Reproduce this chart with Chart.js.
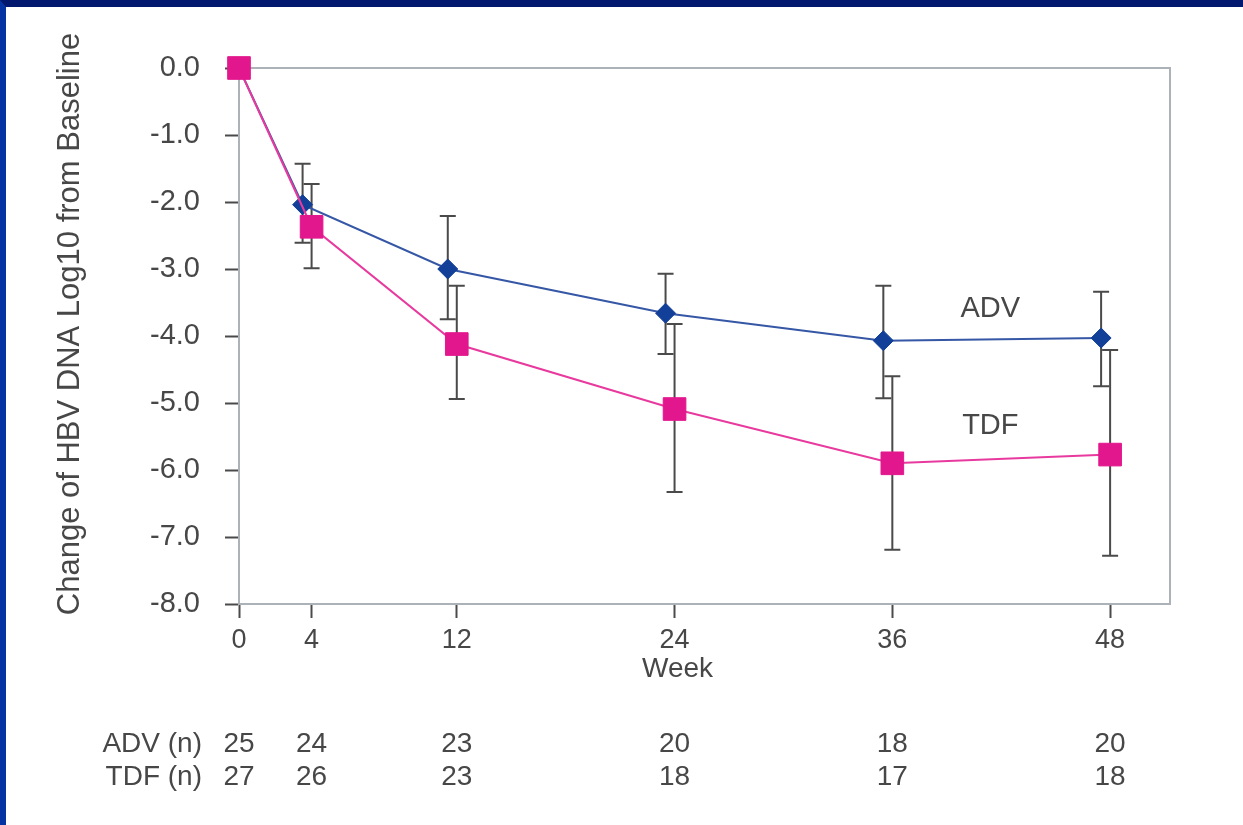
<!DOCTYPE html>
<html>
<head>
<meta charset="utf-8">
<script src="https://cdn.jsdelivr.net/npm/chart.js@4.4.1/dist/chart.umd.min.js"></script>
<style>
body { margin: 0; background: #fff; overflow: hidden; }
#frame {
    position: absolute; left: 0; top: 0;
    width: 1237px; height: 818px;
    border-left: 6px solid #0533a2;
    border-top: 7px solid #02186f;
    background: #fff;
}
</style>
</head>
<body>
<div id="frame"><canvas id="myChart"></canvas></div>
<script>
// weeks on study
var weeks = [0, 4, 12, 24, 36, 48];

// ADV: mean change and error bar ends
var advMean = [0, -2.04, -3.0, -3.66, -4.07, -4.03];
var advLow  = [null, -2.61, -3.75, -4.27, -4.93, -4.75];
var advHigh = [null, -1.43, -2.21, -3.07, -3.25, -3.34];

// TDF
var tdfMean = [0, -2.37, -4.12, -5.09, -5.90, -5.77];
var tdfLow  = [null, -2.99, -4.94, -6.33, -7.19, -7.28];
var tdfHigh = [null, -1.73, -3.25, -3.82, -4.60, -4.21];

// patients per visit
var advN = [25, 24, 23, 20, 18, 20];
var tdfN = [27, 26, 23, 18, 17, 18];

var FONT = '"Liberation Sans", Arial, sans-serif';
var TEXT = '#474747';
var ADV_SHIFT = -9; // ADV markers sit a bit left of the tick

function pts(means){
    var out = [];
    for (var i in weeks) out.push({x: weeks[i], y: means[i]});
    return out;
}

var extras = {
    id: 'extras',
    afterDatasetsUpdate: function(chart){
        var meta = chart.getDatasetMeta(0);
        for (var i = 1; i < meta.data.length; i++) {
            meta.data[i].x += ADV_SHIFT;
        }
    },
    beforeDatasetsDraw: function(chart){
        var ctx = chart.ctx, a = chart.chartArea;
        var ys = chart.scales.y;
        // top and right edges of the box
        ctx.save();
        ctx.strokeStyle = '#adb2b7';
        ctx.lineWidth = 2;
        ctx.beginPath();
        ctx.moveTo(a.left, a.top);
        ctx.lineTo(a.right, a.top);
        ctx.lineTo(a.right, a.bottom);
        ctx.stroke();
        // error bars
        ctx.strokeStyle = '#4a4a4a';
        ctx.lineWidth = 2;
        var bars = [[advLow, advHigh], [tdfLow, tdfHigh]];
        for (var d = 0; d < 2; d++) {
            var meta = chart.getDatasetMeta(d);
            for (var i = 1; i < weeks.length; i++) {
                var x = meta.data[i].x;
                var y1 = ys.getPixelForValue(bars[d][0][i]);
                var y2 = ys.getPixelForValue(bars[d][1][i]);
                ctx.beginPath();
                ctx.moveTo(x, y1); ctx.lineTo(x, y2);
                ctx.moveTo(x - 8, y1); ctx.lineTo(x + 8, y1);
                ctx.moveTo(x - 8, y2); ctx.lineTo(x + 8, y2);
                ctx.stroke();
            }
        }
        ctx.restore();
    },
    afterDraw: function(chart){
        var ctx = chart.ctx;
        var xs = chart.scales.x, ys = chart.scales.y;
        ctx.save();
        ctx.fillStyle = TEXT;
        ctx.textBaseline = 'middle';
        // y axis title
        ctx.save();
        ctx.translate(64, 317);
        ctx.rotate(-Math.PI / 2);
        ctx.textAlign = 'center';
        ctx.font = '31px ' + FONT;
        ctx.fillText('Change of HBV DNA Log10 from Baseline', 0, 0);
        ctx.restore();
        // series labels
        ctx.font = '29px ' + FONT;
        ctx.textAlign = 'center';
        ctx.fillText('ADV', xs.getPixelForValue(41.4), ys.getPixelForValue(-3.6));
        ctx.fillText('TDF', xs.getPixelForValue(41.4), ys.getPixelForValue(-5.35));
        // x axis title
        ctx.font = '28px ' + FONT;
        ctx.fillText('Week', xs.getPixelForValue(24) + 3, 662);
        // n table
        ctx.font = '28px ' + FONT;
        ctx.textAlign = 'right';
        ctx.fillText('ADV (n)', 196, 737);
        ctx.fillText('TDF (n)', 196, 770);
        ctx.textAlign = 'center';
        for (var i in weeks) {
            var x = xs.getPixelForValue(weeks[i]);
            ctx.fillText(String(advN[i]), x, 737);
            ctx.fillText(String(tdfN[i]), x, 770);
        }
        ctx.restore();
    }
};

var ctx = document.getElementById('myChart');
var chart = new Chart(ctx, {
    type: 'line',
    data: {
        datasets: [
            {
                label: 'ADV',
                data: pts(advMean),
                borderColor: '#3557a6',
                borderWidth: 2,
                pointStyle: 'rectRot',
                pointRadius: 10,
                pointBackgroundColor: '#123f98',
                pointBorderColor: '#123f98',
                pointBorderWidth: 1,
                order: 1,
                clip: false
            },
            {
                label: 'TDF',
                data: pts(tdfMean),
                borderColor: '#e83a9e',
                borderWidth: 2,
                pointStyle: 'rect',
                pointRadius: 16,
                pointBackgroundColor: '#e3178d',
                pointBorderColor: '#e3178d',
                pointBorderWidth: 1,
                order: 0,
                clip: false
            }
        ]
    },
    options: {
        responsive: true,
        maintainAspectRatio: false,
        animation: false,
        layout: { padding: { top: 61, right: 73, left: 0, bottom: 0 } },
        plugins: {
            legend: { display: false },
            tooltip: { enabled: false }
        },
        scales: {
            x: {
                type: 'linear',
                min: 0,
                max: 51.3,
                afterBuildTicks: function(scale){
                    scale.ticks = weeks.map(function(w){ return {value: w}; });
                },
                afterFit: function(scale){ scale.height = 221; },
                border: { color: '#adb2b7', width: 2 },
                grid: { drawOnChartArea: false, tickLength: 14, tickColor: '#4a4a4a', tickWidth: 2 },
                ticks: {
                    autoSkip: false,
                    maxRotation: 0,
                    padding: 6,
                    color: TEXT,
                    font: { family: FONT, size: 27 },
                    callback: function(v){ return String(v); }
                }
            },
            y: {
                min: -8,
                max: 0,
                afterFit: function(scale){ scale.width = 233; },
                border: { color: '#adb2b7', width: 2 },
                grid: { drawOnChartArea: false, tickLength: 14, tickColor: '#4a4a4a', tickWidth: 2 },
                ticks: {
                    stepSize: 1,
                    padding: 25,
                    color: TEXT,
                    font: { family: FONT, size: 29 },
                    callback: function(v){ return v.toFixed(1); }
                }
            }
        }
    },
    plugins: [extras]
});
</script>
</body>
</html>
